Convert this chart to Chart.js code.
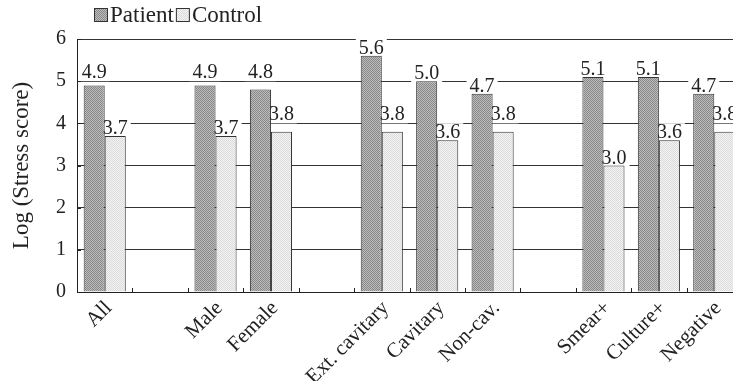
<!DOCTYPE html>
<html>
<head>
<meta charset="utf-8">
<script src="https://cdn.jsdelivr.net/npm/chart.js@4.4.0/dist/chart.umd.min.js"></script>
<style>
  html, body { margin: 0; padding: 0; background: #fff; overflow: hidden; }
  #wrap { width: 745px; height: 381px; position: relative; }
</style>
</head>
<body>
<div id="wrap"><canvas id="stressChart"></canvas></div>
<script>
// empty strings are the spacer slots between the groups
const categories = ['All', '', 'Male', 'Female', '', 'Ext. cavitary', 'Cavitary', 'Non-cav.', '', 'Smear+', 'Culture+', 'Negative'];
const patientValues = [4.9, null, 4.9, 4.8, null, 5.6, 5.0, 4.7, null, 5.1, 5.1, 4.7];
const controlValues = [3.7, null, 3.7, 3.8, null, 3.8, 3.6, 3.8, null, 3.0, 3.6, 3.8];
const seriesNames = ['Patient', 'Control'];
const yTicks = [0, 1, 2, 3, 4, 5, 6];

const serif = "'Liberation Serif', 'Times New Roman', serif";
const ink = '#222';

function makePattern(dark, light) {
    const c = document.createElement('canvas');
    c.width = 2; c.height = 2;
    const g = c.getContext('2d');
    g.fillStyle = light; g.fillRect(0, 0, 2, 2);
    g.fillStyle = dark; g.fillRect(0, 0, 1, 1); g.fillRect(1, 1, 1, 1);
    return g.createPattern(c, 'repeat');
}
const patientFill = makePattern('#888', '#bcbcbc');
const controlFill = makePattern('#dcdcdc', '#f2f2f2');

// value labels: white box behind (hides grid), text after bars
function labelBoxes(chart) {
    const yScale = chart.scales.y;
    const ctx = chart.ctx;
    ctx.font = '20px ' + serif;
    const boxes = [];
    chart.data.datasets.forEach((ds, di) => {
        chart.getDatasetMeta(di).data.forEach((bar, i) => {
            const v = ds.data[i];
            if (v === null) return;
            const txt = v.toFixed(1);
            const w = ctx.measureText(txt).width;
            let base = bar.y - 2;
            const cap = 13;
            yTicks.forEach(t => {
                const gy = yScale.getPixelForValue(t);
                if (gy > base - cap * 0.6 && gy < base + 1) base = gy - 3;
            });
            boxes.push({x: bar.x, base: base, w: w, txt: txt});
        });
    });
    return boxes;
}

const valueLabels = {
    id: 'valueLabels',
    beforeDatasetsDraw(chart) {
        const ctx = chart.ctx;
        ctx.save();
        ctx.fillStyle = '#fff';
        labelBoxes(chart).forEach(b => {
            ctx.fillRect(b.x - b.w / 2 - 3, b.base - 15, b.w + 6, 18);
        });
        ctx.restore();
    },
    afterDatasetsDraw(chart) {
        const ctx = chart.ctx;
        ctx.save();
        ctx.font = '20px ' + serif;
        ctx.fillStyle = ink;
        ctx.textAlign = 'center';
        ctx.textBaseline = 'alphabetic';
        labelBoxes(chart).forEach(b => ctx.fillText(b.txt, b.x, b.base));
        ctx.restore();
    }
};

// small inward ticks on both axes + hand legend
const axisExtras = {
    id: 'axisExtras',
    afterDraw(chart) {
        const ctx = chart.ctx;
        const xs = chart.scales.x, ys = chart.scales.y;
        const area = chart.chartArea;
        ctx.save();
        ctx.strokeStyle = ink;
        ctx.lineWidth = 1;
        ctx.beginPath();
        const step = xs.getPixelForValue(1) - xs.getPixelForValue(0);
        for (let i = 1; i <= categories.length; i++) {
            const x = Math.round(xs.getPixelForValue(i) - step / 2) + 0.5;
            ctx.moveTo(x, area.bottom);
            ctx.lineTo(x, area.bottom - 4);
        }
        yTicks.forEach(t => {
            const y = Math.round(ys.getPixelForValue(t)) + 0.5;
            ctx.moveTo(area.left, y);
            ctx.lineTo(area.left + 4, y);
        });
        ctx.stroke();

        // legend
        ctx.font = '23px ' + serif;
        ctx.textBaseline = 'alphabetic';
        let lx = 94;
        chart.data.datasets.forEach(ds => {
            ctx.fillStyle = ds.backgroundColor;
            ctx.fillRect(lx, 8, 14, 14);
            ctx.strokeStyle = '#333';
            ctx.strokeRect(lx + 0.5, 8.5, 13, 13);
            ctx.fillStyle = ink;
            ctx.fillText(ds.label, lx + 16, 22);
            lx += 16 + ctx.measureText(ds.label).width + 2;
        });
        ctx.restore();
    }
};

new Chart(document.getElementById('stressChart'), {
    type: 'bar',
    data: {
        labels: categories,
        datasets: [
            { label: seriesNames[0], data: patientValues, backgroundColor: patientFill, borderColor: '#333', borderWidth: 1 },
            { label: seriesNames[1], data: controlValues, backgroundColor: controlFill, borderColor: '#333', borderWidth: 1 }
        ]
    },
    options: {
        responsive: true,
        maintainAspectRatio: false,
        animation: false,
        events: [],
        layout: { padding: { left: 0, right: 3, top: 39, bottom: 0 } },
        datasets: { bar: { categoryPercentage: 0.76, barPercentage: 1.0 } },
        plugins: { legend: { display: false }, tooltip: { enabled: false } },
        scales: {
            x: {
                grid: { display: false },
                border: { display: true, color: ink, width: 1 },
                ticks: {
                    autoSkip: false, minRotation: 45, maxRotation: 45, padding: -4, labelOffset: 4,
                    color: ink, font: { family: serif, size: 21 }
                },
                afterFit(scale) { scale.height = 89; }
            },
            y: {
                min: 0, max: 6,
                grid: { color: '#333', lineWidth: 1, drawTicks: false },
                border: { display: true, color: ink, width: 1 },
                ticks: {
                    stepSize: 1, padding: 11, color: ink,
                    font: { family: serif, size: 20 }
                },
                title: {
                    display: true, text: 'Log (Stress score)', color: ink,
                    font: { family: serif, size: 23 }, padding: { top: 8, bottom: 0 }
                },
                afterFit(scale) { scale.width = 77; }
            }
        }
    },
    plugins: [valueLabels, axisExtras]
});
</script>
</body>
</html>
